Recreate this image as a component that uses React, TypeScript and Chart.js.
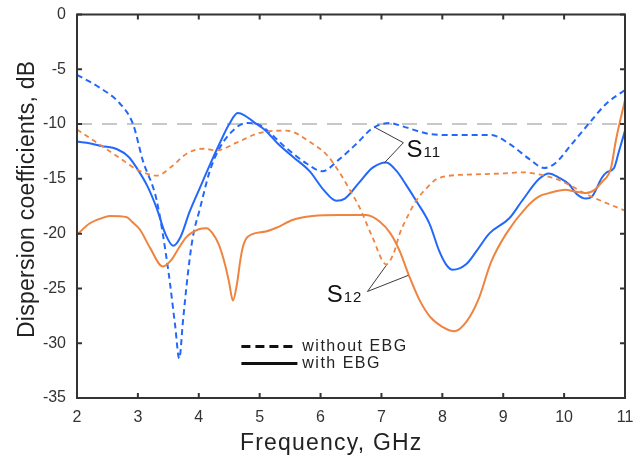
import React, { useEffect, useRef } from "react";
import { Chart, registerables } from "chart.js";

Chart.register(...registerables);

// X axis / Y axis ticks
const xTicks = [2, 3, 4, 5, 6, 7, 8, 9, 10, 11];
const yTicks = [0, -5, -10, -15, -20, -25, -30, -35];
const refLevel = -10;

// S11 without EBG (blue dashed)
const s11NoEbgF = [2.0, 2.38, 2.7, 2.92, 3.08, 3.31, 3.5, 3.61, 3.68, 3.74, 3.82, 3.9, 4.02, 4.18, 4.34, 4.62, 4.79, 5.0, 5.44, 5.77, 6.03, 6.31, 6.59, 6.85, 7.13, 7.4, 7.79, 8.2, 8.5, 8.8, 9.1, 9.43, 9.67, 9.85, 10.1, 10.4, 10.7, 11.0];
const s11NoEbgDb = [-5.5, -6.7, -8.1, -10.0, -13.3, -17.0, -23.4, -28.3, -31.4, -28.0, -23.7, -20.4, -17.7, -14.3, -12.2, -10.3, -9.9, -10.1, -12.2, -13.6, -14.3, -13.2, -11.8, -10.4, -9.9, -10.3, -10.9, -11.0, -11.0, -11.0, -11.8, -13.2, -14.0, -13.6, -12.0, -10.0, -8.1, -6.9];

// S11 with EBG (blue solid)
const s11EbgF = [2.0, 2.16, 2.4, 2.66, 2.85, 2.98, 3.15, 3.31, 3.45, 3.58, 3.7, 3.85, 4.02, 4.2, 4.34, 4.5, 4.64, 4.75, 4.9, 5.1, 5.3, 5.55, 5.82, 6.05, 6.26, 6.4, 6.64, 6.85, 7.08, 7.25, 7.4, 7.57, 7.79, 7.95, 8.06, 8.17, 8.39, 8.56, 8.77, 9.1, 9.31, 9.59, 9.75, 9.92, 10.08, 10.21, 10.36, 10.46, 10.62, 10.7, 10.82, 10.9, 11.0];
const s11EbgDb = [-11.6, -11.7, -12.0, -12.3, -13.0, -14.0, -15.6, -17.7, -20.0, -21.1, -20.3, -18.0, -15.8, -13.5, -11.8, -10.0, -9.0, -9.2, -9.8, -10.6, -11.8, -13.0, -14.3, -16.0, -17.0, -16.8, -15.3, -14.0, -13.5, -14.3, -15.5, -17.0, -19.1, -21.6, -22.8, -23.3, -22.8, -21.6, -20.0, -18.6, -17.0, -15.0, -14.5, -14.9, -15.5, -16.4, -16.8, -16.6, -14.9, -14.4, -14.0, -12.5, -10.6];

// S12 without EBG (orange dashed)
const s12NoEbgF = [2.0, 2.3, 2.7, 3.0, 3.31, 3.55, 3.8, 4.07, 4.3, 4.62, 5.0, 5.44, 5.87, 6.1, 6.31, 6.5, 6.64, 6.85, 7.08, 7.2, 7.3, 7.45, 7.57, 7.75, 7.95, 8.5, 9.0, 9.31, 9.59, 9.87, 10.1, 10.4, 10.65, 11.0];
const s12NoEbgDb = [-10.5, -11.6, -13.1, -14.2, -14.7, -13.9, -12.7, -12.25, -12.4, -11.7, -10.8, -10.6, -11.8, -12.8, -14.4, -16.2, -17.6, -20.3, -22.8, -21.8, -20.0, -18.2, -17.0, -15.8, -14.9, -14.6, -14.5, -14.4, -14.6, -15.0, -15.6, -16.5, -17.1, -17.9];

// S12 with EBG (orange solid)
const s12EbgF = [2.0, 2.2, 2.4, 2.54, 2.82, 2.9, 3.03, 3.2, 3.41, 3.55, 3.64, 3.8, 4.0, 4.13, 4.23, 4.33, 4.43, 4.5, 4.56, 4.63, 4.68, 4.72, 4.8, 5.1, 5.3, 5.54, 5.87, 6.31, 6.75, 6.97, 7.15, 7.3, 7.45, 7.62, 7.8, 8.0, 8.2, 8.4, 8.6, 8.8, 9.05, 9.38, 9.59, 9.75, 10.03, 10.13, 10.36, 10.5, 10.62, 10.77, 10.85, 11.0];
const s12EbgDb = [-20.1, -19.1, -18.6, -18.4, -18.5, -18.9, -19.6, -21.3, -23.0, -22.4, -21.6, -20.3, -19.6, -19.5, -20.0, -21.0, -22.8, -24.5, -26.1, -24.5, -22.5, -21.3, -20.3, -19.8, -19.4, -18.75, -18.4, -18.3, -18.3, -18.9, -20.0, -21.6, -23.8, -26.0, -27.6, -28.5, -28.9, -28.0, -25.9, -22.6, -20.0, -17.6, -16.6, -16.3, -16.0, -16.1, -16.3, -16.0, -15.3, -14.0, -11.5, -7.8];

// Annotation anchors (data coordinates)
const s11Label = { f: 7.41, db: -12.98, text: "S", sub: "11" };
const s11Pointers = { apex: [7.36, -11.7], to: [[6.885, -10.28], [7.05, -13.53]] };
const s12Label = { f: 6.1, db: -26.28, text: "S", sub: "12" };
const s12Pointers = { apex: [6.77, -25.28], to: [[7.08, -22.89], [7.44, -23.81]] };
const legendItems = [
  { label: "without EBG", dashed: true, db: -30.3 },
  { label: "with EBG", dashed: false, db: -31.85 },
];
const legendLineF = [4.7, 5.62];
const legendTextF = 5.7;

const BLUE = "#2468fb";
const ORANGE = "#ee8440";
const AXIS = "#333333";
const FONT = "'Liberation Sans', Arial, sans-serif";

const pts = (f: number[], d: number[]) => f.map((x, i) => ({ x, y: d[i] }));

const overlay = {
  id: "overlay",
  beforeDatasetsDraw(chart: any) {
    const { ctx, chartArea: a, scales } = chart;
    const y = scales.y.getPixelForValue(refLevel);
    ctx.save();
    ctx.strokeStyle = "#c8c8c8";
    ctx.lineWidth = 2;
    ctx.setLineDash([15, 10]);
    ctx.beginPath();
    ctx.moveTo(a.left, y);
    ctx.lineTo(a.right, y);
    ctx.stroke();
    ctx.restore();
  },
  afterDatasetsDraw(chart: any) {
    const { ctx, chartArea: a, scales } = chart;
    const sx = scales.x, sy = scales.y;
    ctx.save();
    // frame
    ctx.strokeStyle = AXIS;
    ctx.lineWidth = 2;
    ctx.strokeRect(a.left, a.top, a.right - a.left, a.bottom - a.top);
    // inward ticks
    ctx.beginPath();
    xTicks.forEach((v) => {
      const px = sx.getPixelForValue(v);
      ctx.moveTo(px, a.bottom);
      ctx.lineTo(px, a.bottom - 5);
      ctx.moveTo(px, a.top);
      ctx.lineTo(px, a.top + 5);
    });
    yTicks.forEach((v) => {
      const py = sy.getPixelForValue(v);
      ctx.moveTo(a.left, py);
      ctx.lineTo(a.left + 5, py);
      ctx.moveTo(a.right, py);
      ctx.lineTo(a.right - 5, py);
    });
    ctx.stroke();

    // annotations pointers
    ctx.strokeStyle = "#3a3a3a";
    ctx.lineWidth = 1;
    [s11Pointers, s12Pointers].forEach((p) => {
      const ax = sx.getPixelForValue(p.apex[0]);
      const ay = sy.getPixelForValue(p.apex[1]);
      ctx.beginPath();
      p.to.forEach((t) => {
        ctx.moveTo(ax, ay);
        ctx.lineTo(sx.getPixelForValue(t[0]), sy.getPixelForValue(t[1]));
      });
      ctx.stroke();
    });
    // annotation labels
    ctx.fillStyle = "#111";
    ctx.textBaseline = "alphabetic";
    ctx.textAlign = "left";
    [s11Label, s12Label].forEach((l) => {
      const lx = sx.getPixelForValue(l.f);
      const ly = sy.getPixelForValue(l.db);
      ctx.font = `24px ${FONT}`;
      (ctx as any).letterSpacing = "0px";
      ctx.fillText(l.text, lx, ly);
      const w = ctx.measureText(l.text).width;
      ctx.font = `15px ${FONT}`;
      (ctx as any).letterSpacing = "1px";
      ctx.fillText(l.sub, lx + w + 1, ly);
    });

    // legend
    legendItems.forEach((it) => {
      const py = sy.getPixelForValue(it.db);
      ctx.strokeStyle = "#111";
      ctx.lineWidth = 3;
      ctx.setLineDash(it.dashed ? [9, 5] : []);
      ctx.beginPath();
      ctx.moveTo(sx.getPixelForValue(legendLineF[0]), py);
      ctx.lineTo(sx.getPixelForValue(legendLineF[1]), py);
      ctx.stroke();
      ctx.setLineDash([]);
      ctx.font = `16px ${FONT}`;
      (ctx as any).letterSpacing = "1.5px";
      ctx.fillStyle = "#222";
      ctx.textBaseline = "middle";
      ctx.fillText(it.label, sx.getPixelForValue(legendTextF), py);
    });

    // axis titles
    ctx.fillStyle = "#222";
    ctx.font = `23px ${FONT}`;
    (ctx as any).letterSpacing = "1.2px";
    ctx.textAlign = "left";
    ctx.textBaseline = "alphabetic";
    ctx.fillText("Frequency, GHz", 240, 450);
    (ctx as any).letterSpacing = "0.25px";
    ctx.translate(34, 338);
    ctx.rotate(-Math.PI / 2);
    ctx.fillText("Dispersion coefficients, dB", 0, 0);
    ctx.restore();
  },
};

export default function App() {
  const ref = useRef<HTMLCanvasElement | null>(null);
  useEffect(() => {
    document.body.style.margin = "0";
    const ds = (label: string, f: number[], d: number[], color: string, dash: number[], width: number) => ({
      label,
      data: pts(f, d),
      borderColor: color,
      borderWidth: width,
      borderDash: dash,
      pointRadius: 0,
      fill: false,
      cubicInterpolationMode: "monotone" as const,
    });
    const chart = new Chart(ref.current as HTMLCanvasElement, {
      type: "line",
      data: {
        datasets: [
          ds("S12 with EBG", s12EbgF, s12EbgDb, ORANGE, [], 2),
          ds("S12 without EBG", s12NoEbgF, s12NoEbgDb, ORANGE, [5, 4], 1.8),
          ds("S11 with EBG", s11EbgF, s11EbgDb, BLUE, [], 2),
          ds("S11 without EBG", s11NoEbgF, s11NoEbgDb, BLUE, [6, 4], 2),
        ],
      },
      options: {
        responsive: false,
        animation: false,
        layout: { padding: { left: 0, right: 18, top: 14.5, bottom: 0 } },
        plugins: { legend: { display: false }, tooltip: { enabled: false } },
        scales: {
          x: {
            type: "linear",
            min: 2,
            max: 11,
            afterBuildTicks: (s: any) => { s.ticks = xTicks.map((v) => ({ value: v })); },
            afterFit: (s: any) => { s.height = 59; s.paddingLeft = 0; s.paddingRight = 0; },
            grid: { display: false, drawTicks: false },
            border: { display: false },
            ticks: { font: { size: 16, family: FONT }, color: "#333", padding: 10 },
          },
          y: {
            type: "linear",
            min: -35,
            max: 0,
            afterBuildTicks: (s: any) => { s.ticks = yTicks.map((v) => ({ value: v })); },
            afterFit: (s: any) => { s.width = 77; s.paddingTop = 0; s.paddingBottom = 0; },
            grid: { display: false, drawTicks: false },
            border: { display: false },
            ticks: { font: { size: 16, family: FONT }, color: "#333", padding: 11 },
          },
        },
      },
      plugins: [overlay],
    });
    return () => chart.destroy();
  }, []);
  return (
    <div style={{ position: "fixed", left: 0, top: 0, width: 643, height: 457, background: "#fff" }}>
      <canvas ref={ref} width={643} height={457} />
    </div>
  );
}
